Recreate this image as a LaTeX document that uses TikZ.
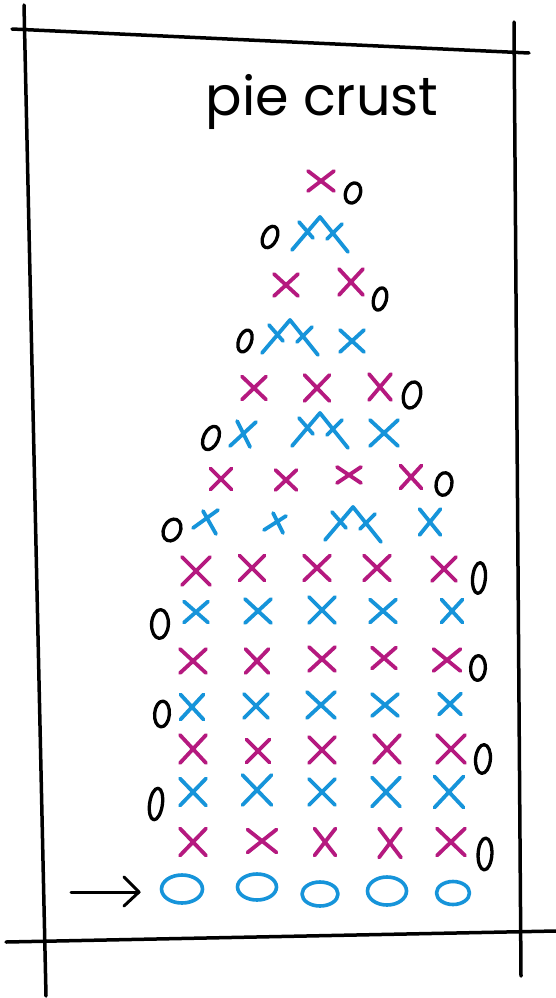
\documentclass[tikz,border=0pt]{standalone}
\usepackage{fontspec}
\newfontfamily\hand{Poppins}
\definecolor{mag}{RGB}{181,25,127}
\definecolor{blu}{RGB}{22,148,218}
\newcommand\Xs[5]{\draw[#1] ({#2-#4},{#3-#5}) -- ({#2+#4},{#3+#5}) ({#2-#4},{#3+#5}) -- ({#2+#4},{#3-#5});}
\newcommand\Zr[5]{\draw[zero,rotate around={-#5:(#1,#2)}] (#1,#2) ellipse [x radius=#3+0.4, y radius=#4+0.4];}
\newcommand\Ov[4]{\draw[oval] (#1,#2) ellipse [x radius=#3, y radius=#4];}
\begin{document}
\begin{tikzpicture}[x=1pt,y=-1pt,line cap=round,line join=round,
  frame/.style={line width=3.5pt,black},
  magx/.style={line width=3.8pt,mag},
  blux/.style={line width=3.8pt,blu},
  oval/.style={line width=3.6pt,blu},
  zero/.style={line width=3.3pt,black},
  incpic/.pic={\draw[blux] (-28,33) -- (0,0) -- (28,35) (-21,5) -- (-7,21) (7,22) -- (22,7);}]
\useasboundingbox (0,0) rectangle (556,998);
\fill[white] (0,0) rectangle (556,998);
% frame
\draw[frame] (12,29) -- (529,53);
\draw[frame] (24,5) -- (46,996);
\draw[frame] (514,22) -- (521,976);
\draw[frame] (6,942) -- (556,931);
% title
\node[font=\hand\fontsize{54}{60}\selectfont,anchor=base,inner sep=0pt] (title) at (322,115) {pie crust};
% row 1
\Xs{magx}{321}{181}{13}{10}
\Zr{353}{193}{7}{10}{20}
% row 2
\pic at (320,217) {incpic};
\Zr{270}{237}{6.5}{11}{25}
% row 3
\Xs{magx}{286}{285}{12}{11}
\Xs{magx}{351}{282}{12}{13}
\Zr{380}{299}{6}{11}{15}
% row 4
\Zr{245}{341}{6}{11}{20}
\pic at (290,320) {incpic};
\Xs{blux}{352}{341}{12}{11}
% row 5
\Xs{magx}{254}{388}{12}{11.5}
\Xs{magx}{317}{388}{12.5}{13}
\Xs{magx}{380}{387}{11}{13}
\Zr{412}{395}{8}{13}{15}
% row 6
\Zr{211}{438}{7}{12}{25}
\draw[blux] (230,446) -- (256,422) (237,421) -- (250,447);
\pic at (320,413) {incpic};
\Xs{blux}{384}{433}{14}{13}
% row 7
\Xs{magx}{221}{479}{10.5}{10.5}
\Xs{magx}{286}{480}{10.5}{10}
\Xs{magx}{349}{475}{12}{8}
\Xs{magx}{411}{477}{10.5}{11.5}
\Zr{444}{484}{7.5}{11}{10}
% row 8
\Zr{172}{530}{8}{11}{25}
\draw[blux] (193,528) -- (218,510) (203,511) -- (216,534);
\draw[blux] (264,530) -- (286,516) (273,513) -- (283,533);
\pic at (353,507) {incpic};
\Xs{blux}{430}{522}{10.5}{13}
% row 9
\Xs{magx}{196}{571}{14}{14}
\Xs{magx}{252}{568}{12.5}{12.5}
\Xs{magx}{317}{568}{13}{12.5}
\Xs{magx}{377}{568}{13}{12.5}
\Xs{magx}{444}{569}{12}{12}
\Zr{479}{578}{6}{15}{5}
% row 10
\Zr{160}{624}{8}{14}{3}
\Xs{blux}{196}{612}{12}{10.5}
\Xs{blux}{258}{611}{13}{12}
\Xs{blux}{322}{610}{13}{13}
\Xs{blux}{383}{611}{13}{11.5}
\Xs{blux}{452}{611}{10.5}{11.5}
% row 11
\Xs{magx}{193}{661}{13}{12}
\Xs{magx}{257}{661}{11.5}{12}
\Xs{magx}{322}{659}{13}{12}
\Xs{magx}{384}{658}{12}{10.5}
\Xs{magx}{447}{660}{13.5}{11}
\Zr{478}{668}{7}{12}{3}
% row 12
\Zr{162}{714}{7}{12.5}{5}
\Xs{blux}{192}{707}{11.5}{12.5}
\Xs{blux}{256}{706}{12}{12}
\Xs{blux}{321}{705}{14}{13}
\Xs{blux}{385}{705}{13}{11}
\Xs{blux}{450}{704}{11}{10.5}
% row 13
\Xs{magx}{193}{749}{13}{14}
\Xs{magx}{258}{751}{11.5}{11.5}
\Xs{magx}{322}{750}{13}{13}
\Xs{magx}{387}{749}{13}{14}
\Xs{magx}{451}{749}{14}{14}
\Zr{483}{759}{7}{14}{5}
% row 14
\Zr{156}{804}{6}{15.5}{8}
\Xs{blux}{193}{792}{13}{13.5}
\Xs{blux}{257}{790}{14.5}{15}
\Xs{blux}{322}{792}{13}{13}
\Xs{blux}{386}{792}{14}{14.5}
\Xs{blux}{449}{792}{14.5}{15.5}
% row 15
\Xs{magx}{193}{842}{13}{13.5}
\Xs{magx}{262}{841}{14.5}{11.5}
\Xs{magx}{325}{842}{10.5}{13.5}
\Xs{magx}{390}{843}{11}{14.5}
\Xs{magx}{451}{842}{14}{13.5}
\Zr{485}{854}{6.5}{15.5}{3}
% foundation chain
\Ov{182}{889}{20.5}{14}
\Ov{257}{887}{19.5}{13}
\Ov{320}{894}{18}{12}
\Ov{387}{891}{19.5}{14}
\Ov{453}{893}{16.5}{11.5}
% arrow
\coordinate (arrS) at (71,892);
\coordinate (arrE) at (139,892);
\draw[line width=3pt] (arrS) -- (arrE);
\draw[line width=3pt] ([shift={(-15,-15)}]arrE) -- (arrE) -- ([shift={(-15,14)}]arrE);
\end{tikzpicture}
\end{document}
